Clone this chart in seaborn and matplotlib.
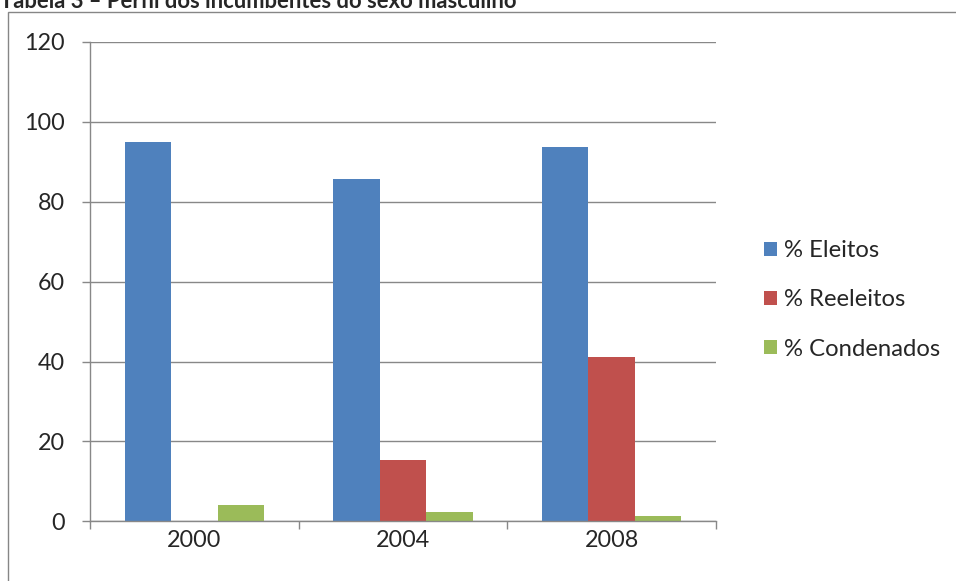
import matplotlib
matplotlib.use("Agg")
import matplotlib.pyplot as plt
import seaborn as sns
import pandas as pd
from matplotlib.patches import Rectangle

years = ["2000", "2004", "2008"]
series = ["% Eleitos", "% Reeleitos", "% Condenados"]
eleitos = [95.0, 85.8, 93.8]
reeleitos = [0.0, 15.3, 41.2]
condenados = [4.1, 2.3, 1.3]
colors = ["#4F81BD", "#C0504D", "#9BBB59"]
title = "Tabela 3 \u2013 Perfil dos incumbentes do sexo masculino"

df = pd.DataFrame({
    "ano": years * 3,
    "serie": [series[0]] * 3 + [series[1]] * 3 + [series[2]] * 3,
    "valor": eleitos + reeleitos + condenados,
})

sns.set_style("white")
plt.rcParams["font.family"] = ["Lato", "DejaVu Sans"]

W, H = 956, 581
fig = plt.figure(figsize=(W / 100, H / 100), dpi=100)
ax = fig.add_axes([90 / W, 1 - 521.3 / H, 626 / W, 479.3 / H])

sns.barplot(data=df, x="ano", y="valor", hue="serie", order=years,
            hue_order=series, palette=colors, width=2 / 3, ax=ax,
            errorbar=None, saturation=1, linewidth=0)

grid_c = "#888888"
ax.set_ylim(0, 120)
ax.set_xlim(-0.5, 2.5)
ax.set_yticks(range(0, 121, 20))
ax.yaxis.grid(True, color=grid_c, linewidth=1.0)
ax.set_axisbelow(True)
for s in ["top", "right"]:
    ax.spines[s].set_visible(False)
for s in ["left", "bottom"]:
    ax.spines[s].set_color(grid_c)
    ax.spines[s].set_linewidth(1.0)
ax.set_xlabel("")
ax.set_ylabel("")
ax.tick_params(axis="y", length=6, width=1.0, color=grid_c, labelsize=16.8,
               pad=12, left=True, direction="out")
ax.tick_params(axis="x", which="major", length=0, labelsize=16.8, pad=6)
ax.set_xticks([-0.5, 0.5, 1.5, 2.5], minor=True)
ax.tick_params(axis="x", which="minor", length=6, width=1.0, color=grid_c,
               bottom=True, direction="out")

handles, labels = ax.get_legend_handles_labels()
if ax.get_legend() is not None:
    ax.get_legend().remove()
fig.legend(handles, labels, loc="center left",
           bbox_to_anchor=(752 / W, 1 - 300 / H), frameon=False,
           fontsize=17.2, handlelength=0.55, handleheight=0.55,
           handletextpad=0.3, labelspacing=1.18, borderpad=0)

fig.add_artist(Rectangle((8 / W, -0.2), 1.2, 1.2 - 12 / H,
                         transform=fig.transFigure, fill=False,
                         edgecolor="#868686", linewidth=1.0))

fig.text(0.0, 1 - 8 / H, title, fontsize=15.8, fontweight="bold",
         ha="left", va="baseline")

fig.savefig("out.png", dpi=100)
